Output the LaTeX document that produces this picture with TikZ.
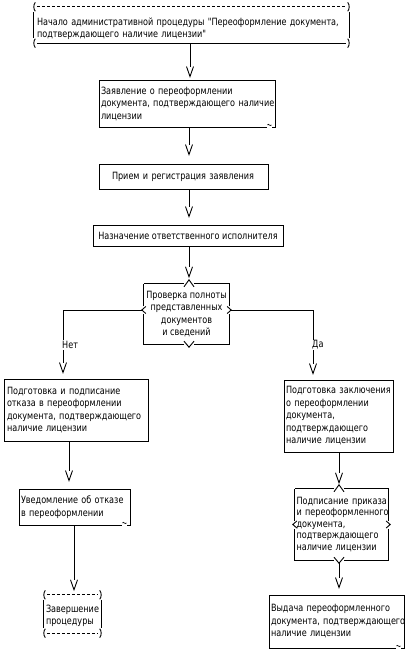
\documentclass[tikz,border=0pt]{standalone}
\usepackage{fontspec}
\setmainfont{DejaVu Sans}[FakeStretch=0.81, Ligatures=TeXOff]
\usetikzlibrary{calc}
\tikzset{
  ln/.style={line width=0.9pt},
  txt/.style={font=\fontsize{10}{12.5}\selectfont, inner sep=2pt},
  box/.style={txt, draw, ln, align=left},
  term/.style={txt, align=left},
  dec/.style={txt, align=center},
  lbl/.style={txt, fill=white, inner sep=1pt},
  dsh/.style={ln, dash pattern=on 3pt off 2pt},
  vhead/.pic={\draw[ln] (-3.5,0) -- (0,10) -- (3.5,0);},
  lpar/.pic={\draw[ln] (1.5,-4.5) .. controls (-0.5,-2) and (-0.5,2) .. (1.5,4.5);},
  rpar/.pic={\draw[ln] (-1.5,-4.5) .. controls (0.5,-2) and (0.5,2) .. (-1.5,4.5);},
  doccorner/.pic={\fill[white] (-8,-1) rectangle (-3,1);
    \draw[line width=0.7pt] (-8,-2.5) .. controls (-7,-4.5) and (-5.5,-0.5) .. (-4,-2.5);},
}
\newcommand\termframe[4]{%
  \draw[#3] ([xshift=3pt,yshift=#2]#1.north west) -- ([xshift=-3pt,yshift=#2]#1.north east);
  \draw[#4] ([xshift=3pt]#1.south west) -- ([xshift=-3pt]#1.south east);
  \draw[ln] ([yshift=#2-5pt]#1.north west) -- ([yshift=5pt]#1.south west);
  \draw[ln] ([yshift=#2-5pt]#1.north east) -- ([yshift=5pt]#1.south east);
  \pic at ([yshift=#2]#1.north west) {lpar};
  \pic at ([yshift=#2]#1.north east) {rpar};
  \pic at (#1.south west) {lpar};
  \pic at (#1.south east) {rpar};
}
\newcommand\decoframe[3]{%
  \coordinate (#1-t) at ([xshift=#2]#1.north);
  \coordinate (#1-b) at ([xshift=#2]#1.south);
  \coordinate (#1-l) at ([yshift=#3]#1.west);
  \coordinate (#1-r) at ([yshift=#3]#1.east);
  \draw[ln] (#1.north west) -- ([xshift=-5pt]#1-t) ([xshift=5pt]#1-t) -- (#1.north east)
    -- ([yshift=4pt]#1-r) ([yshift=-4pt]#1-r) -- (#1.south east)
    -- ([xshift=5pt]#1-b) ([xshift=-5pt]#1-b) -- (#1.south west)
    -- ([yshift=-4pt]#1-l) ([yshift=4pt]#1-l) -- (#1.north west);
  \draw[ln] ([xshift=-5pt,yshift=-3pt]#1-t) -- ([yshift=4pt]#1-t) -- ([xshift=5pt,yshift=-3pt]#1-t);
  \draw[ln] ([xshift=-5pt,yshift=3pt]#1-b) -- ([yshift=-3pt]#1-b) -- ([xshift=5pt,yshift=3pt]#1-b);
  \draw[ln] ([xshift=2pt,yshift=3.5pt]#1-l) -- ([xshift=-2pt]#1-l) -- ([xshift=2pt,yshift=-3.5pt]#1-l);
  \draw[ln] ([xshift=-2pt,yshift=3.5pt]#1-r) -- ([xshift=2pt]#1-r) -- ([xshift=-2pt,yshift=-3.5pt]#1-r);
}
\begin{document}
\begin{tikzpicture}[x=1pt,y=-1pt]
\fill[white] (0,0) rectangle (414,655);
\useasboundingbox (0,0) rectangle (414,655);

% nodes
\node[term, inner xsep=3pt, text width=309pt, minimum height=29pt] (s1) at (191.5,28.5)
  {Начало~административной~процедуры~"Переоформление~документа,\\подтверждающего~наличие~лицензии"};
\node[box, inner xsep=2pt, text width=172pt, minimum height=47pt] (n2) at (187,103.5)
  {Заявление~о~переоформлении\\документа,~подтверждающего~наличие\\лицензии};
\node[box, inner xsep=13pt, text width=143pt, minimum height=25pt] (n3) at (183.5,176.5)
  {Прием~и~регистрация~заявления};
\node[box, align=center, minimum width=190pt, minimum height=21pt] (n4) at (188,235.5)
  {Назначение ответственного исполнителя};
\node[dec, minimum width=85pt, minimum height=60pt] (d) at (186.5,314)
  {Проверка полноты\\представленных\\документов\\и сведений};
\node[box, inner xsep=3pt, text width=138pt, minimum height=62pt] (n6) at (76,410)
  {Подготовка~и~подписание\\отказа~в~переоформлении\\документа,~подтверждающего\\наличие~лицензии};
\node[box, inner xsep=2pt, text width=105pt, minimum height=72pt] (n7) at (338.5,416)
  {Подготовка~заключения\\о~переоформлении\\документа,\\подтверждающего\\наличие~лицензии};
\node[box, inner xsep=2pt, text width=107pt, minimum height=36pt] (n8) at (74.5,507)
  {Уведомление~об~отказе\\в~переоформлении};
\node[term, font=\fontsize{10}{11.5}\selectfont, inner xsep=1.5pt, text width=90pt, minimum height=71pt] (n9) at (341.5,524.5)
  {Подписание~приказа\\и~переоформленного\\документа,\\подтверждающего\\наличие~лицензии};
\node[term, inner xsep=2pt, text width=53pt, minimum height=34pt] (s2) at (72.5,616)
  {Завершение\\процедуры};
\node[box, inner xsep=2pt, text width=131pt, minimum height=53pt] (n11) at (336.5,621.5)
  {Выдача~переоформленного\\документа,~подтверждающего\\наличие~лицензии};

% frames
\termframe{s1}{7pt}{dsh}{ln}
\termframe{s2}{4pt}{dsh}{dsh}
\decoframe{d}{2.5pt}{4pt}
\decoframe{n9}{-2.5pt}{0pt}
\pic at (n2.south east) {doccorner};
\pic at (n8.south east) {doccorner};
\pic at (n11.south east) {doccorner};

% connectors
\coordinate (a1) at ([xshift=-1.5pt]s1.south);
\draw[ln] (a1) -- ($(a1 |- n2.north)+(0,-13)$) pic{vhead};
\coordinate (a2) at ([xshift=2pt]n2.south);
\draw[ln] (a2) -- ($(a2 |- n3.north)+(0,-19)$) pic{vhead};
\coordinate (a3) at ([xshift=5.5pt]n3.south);
\draw[ln] (a3) -- ($(a3 |- n4.north)+(0,-18)$) pic{vhead};
\coordinate (a4) at ([xshift=1pt]n4.south);
\draw[ln] (a4) -- ($(a4 |- d.north)+(0,-17)$) pic{vhead};
\draw[ln] ([xshift=-2pt]d-l) -| ($(n6.north)+(-13,-16)$) pic{vhead};
\draw[ln] ([xshift=2pt]d-r) -| ($(n7.north)+(-25.5,-16)$) pic{vhead};
\coordinate (a7) at ([xshift=-7pt]n6.south);
\draw[ln] (a7) -- ($(a7 |- n8.north)+(0,-18)$) pic{vhead};
\coordinate (a8) at ([xshift=-0.5pt]n8.south);
\draw[ln] (a8) -- ($(a8 |- s2.north)+(0,-19)$) pic{vhead};
\coordinate (a9) at ([xshift=0.5pt]n7.south);
\draw[ln] (a9) -- ($(a9 |- n9.north)+(0,-16)$) pic{vhead};
\coordinate (a10) at ([yshift=-3pt]n9-b);
\draw[ln] (a10) -- ($(a10 |- n11.north)+(0,-17)$) pic{vhead};

% branch labels
\node[lbl, anchor=west] (net) at (61,345) {Нет};
\node[lbl, anchor=west] (da) at (311,345) {Да};
\end{tikzpicture}
\end{document}
